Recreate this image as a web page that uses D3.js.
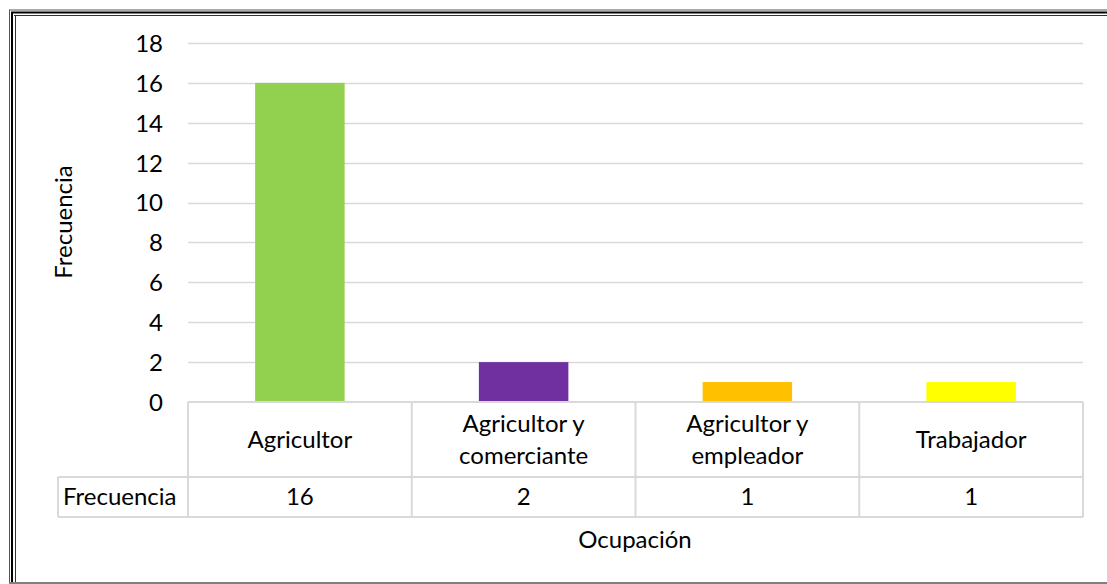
<!DOCTYPE html>
<html>
<head>
<meta charset="utf-8">
<script src="https://cdn.jsdelivr.net/npm/d3@7"></script>
<style>
  html, body { margin: 0; padding: 0; background: #fff; }
  svg { display: block; }
  text { font-family: Lato, "Open Sans", sans-serif; fill: #000; }
</style>
</head>
<body>
<svg id="chart" width="1107" height="584"></svg>
<script>
// Ocupación vs frecuencia
const categories = [["Agricultor"], ["Agricultor y", "comerciante"], ["Agricultor y", "empleador"], ["Trabajador"]];
const values = [16, 2, 1, 1];
const colors = ["#92d050", "#7030a0", "#ffc000", "#ffff00"];
const yTicks = [0, 2, 4, 6, 8, 10, 12, 14, 16, 18];
const seriesName = "Frecuencia";

(function () {
const svg = d3.select("#chart");
const W = 1107, H = 584;
const FS = 24;

// Frame: triple rule on top and left, thin rule at the bottom
const frame = svg.append("g");
frame.append("line").attr("x1", 9).attr("x2", W).attr("y1", 10).attr("y2", 10).attr("stroke", "#555").attr("stroke-width", 1);
frame.append("line").attr("x1", 11).attr("x2", W).attr("y1", 12.5).attr("y2", 12.5).attr("stroke", "#000").attr("stroke-width", 2);
frame.append("line").attr("x1", 14).attr("x2", W).attr("y1", 15.5).attr("y2", 15.5).attr("stroke", "#333").attr("stroke-width", 1);
frame.append("line").attr("x1", 9.5).attr("x2", 9.5).attr("y1", 10).attr("y2", H).attr("stroke", "#555").attr("stroke-width", 1);
frame.append("line").attr("x1", 12).attr("x2", 12).attr("y1", 12).attr("y2", H).attr("stroke", "#000").attr("stroke-width", 2);
frame.append("line").attr("x1", 15.5).attr("x2", 15.5).attr("y1", 15).attr("y2", H).attr("stroke", "#333").attr("stroke-width", 1);
frame.append("line").attr("x1", 9).attr("x2", W).attr("y1", 583).attr("y2", 583).attr("stroke", "#808080").attr("stroke-width", 2);

const plotLeft = 188, plotRight = 1083, plotTop = 43, plotBottom = 402;

const x = d3.scaleBand().domain(d3.range(categories.length)).range([plotLeft, plotRight]).paddingInner(0).paddingOuter(0);
const y = d3.scaleLinear().domain([0, 18]).range([plotBottom, plotTop]);

// Gridlines
svg.append("g").selectAll("line").data(yTicks.filter(t => t > 0)).join("line")
  .attr("x1", plotLeft).attr("x2", plotRight)
  .attr("y1", d => Math.round(y(d)) + 0.5).attr("y2", d => Math.round(y(d)) + 0.5)
  .attr("stroke", "#d9d9d9").attr("stroke-width", 1.5);

// Y axis labels
const yAxis = d3.axisLeft(y).tickValues(yTicks).tickSize(0).tickPadding(0);
const ya = svg.append("g").attr("transform", `translate(163,0)`).call(yAxis);
ya.select(".domain").remove();
ya.selectAll("text").attr("font-size", FS).attr("font-family", "Lato, 'Open Sans', sans-serif").attr("fill", "#000").attr("dy", "0.35em");

// Bars
const barW = x.bandwidth() * 0.4;
svg.append("g").selectAll("rect").data(values).join("rect")
  .attr("x", (d, i) => x(i) + (x.bandwidth() - barW) / 2)
  .attr("width", barW)
  .attr("y", d => y(d))
  .attr("height", d => y(0) - y(d))
  .attr("fill", (d, i) => colors[i]);

// Data table under the plot
const tbl = svg.append("g");
const rowTop = plotBottom, rowMid = 477, rowBot = 517, labelLeft = 58;
const gridStroke = "#d9d9d9";
tbl.append("line").attr("x1", plotLeft).attr("x2", plotRight).attr("y1", rowTop).attr("y2", rowTop).attr("stroke", gridStroke).attr("stroke-width", 2);
tbl.append("line").attr("x1", labelLeft).attr("x2", plotRight).attr("y1", rowMid).attr("y2", rowMid).attr("stroke", gridStroke).attr("stroke-width", 2);
tbl.append("line").attr("x1", labelLeft).attr("x2", plotRight).attr("y1", rowBot).attr("y2", rowBot).attr("stroke", gridStroke).attr("stroke-width", 2);
tbl.append("line").attr("x1", labelLeft).attr("x2", labelLeft).attr("y1", rowMid).attr("y2", rowBot).attr("stroke", gridStroke).attr("stroke-width", 2);
const edges = d3.range(categories.length + 1).map(i => i < categories.length ? x(i) : plotRight);
tbl.selectAll("line.v").data(edges).join("line").attr("class", "v")
  .attr("x1", d => d).attr("x2", d => d).attr("y1", rowTop).attr("y2", rowBot)
  .attr("stroke", gridStroke).attr("stroke-width", 2);

// Category labels
categories.forEach((lines, i) => {
  const cx = x(i) + x.bandwidth() / 2;
  const cy = (rowTop + rowMid) / 2;
  const lh = 32;
  const t = tbl.append("text").attr("text-anchor", "middle").attr("font-size", FS);
  lines.forEach((ln, k) => {
    t.append("tspan").attr("x", cx)
      .attr("y", cy + (k - (lines.length - 1) / 2) * lh)
      .attr("dy", "0.35em").text(ln);
  });
});

// Value row
tbl.append("text").attr("x", labelLeft + 5).attr("y", (rowMid + rowBot) / 2).attr("dy", "0.35em")
  .attr("font-size", FS).text(seriesName);
tbl.selectAll("text.val").data(values).join("text").attr("class", "val")
  .attr("x", (d, i) => x(i) + x.bandwidth() / 2).attr("y", (rowMid + rowBot) / 2).attr("dy", "0.35em")
  .attr("text-anchor", "middle").attr("font-size", FS).text(d => d);

// Axis titles
svg.append("text").attr("transform", `translate(72,222) rotate(-90)`).attr("text-anchor", "middle")
  .attr("font-size", FS).text("Frecuencia");
svg.append("text").attr("x", 635).attr("y", 540).attr("dy", "0.35em").attr("text-anchor", "middle")
  .attr("font-size", FS).text("Ocupación");
})();
</script>
</body>
</html>
